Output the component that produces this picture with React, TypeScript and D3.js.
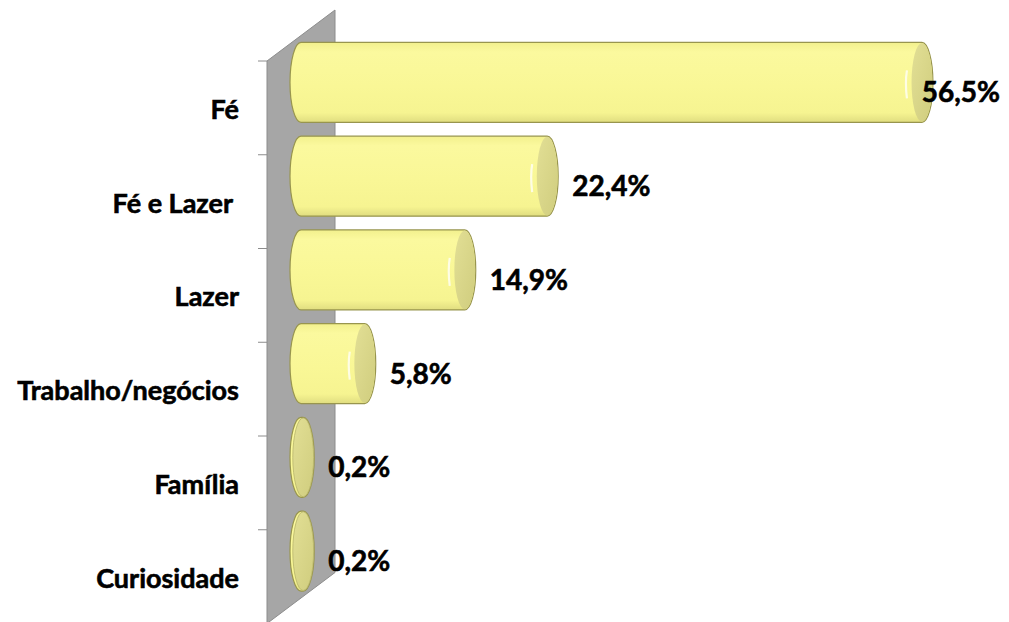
import React, { useEffect, useRef } from "react";
import * as d3 from "d3";

const categories = ["Fé", "Fé e Lazer ", "Lazer", "Trabalho/negócios", "Família", "Curiosidade"];
const values = [56.5, 22.4, 14.9, 5.8, 0.2, 0.2];
const valueLabels = ["56,5%", "22,4%", "14,9%", "5,8%", "0,2%", "0,2%"];

const W = 1009;
const H = 622;
const FONT = "Lato, 'Open Sans', sans-serif";

export default function App() {
  const ref = useRef<SVGSVGElement | null>(null);

  useEffect(() => {
    const svg = d3.select(ref.current);
    svg.selectAll("*").remove();

    // front plane geometry
    const left = 267;
    const top = 61;
    const bottom = 623.5;
    const depthX = 68;
    const depthY = -51;
    const shiftX = depthX / 2;
    const shiftY = depthY / 2;

    const x = d3.scaleLinear().domain([0, 60]).range([left, left + 60 * 10.99]);
    const y = d3.scaleBand<string>().domain(categories).range([top, bottom]).paddingInner(0).paddingOuter(0);
    const ry = 40;
    const rx = 11;

    const defs = svg.append("defs");
    const g1 = defs.append("linearGradient").attr("id", "body").attr("x1", 0).attr("y1", 0).attr("x2", 0).attr("y2", 1);
    g1.append("stop").attr("offset", "0%").attr("stop-color", "#f2f08d");
    g1.append("stop").attr("offset", "12%").attr("stop-color", "#fbf99e");
    g1.append("stop").attr("offset", "55%").attr("stop-color", "#f9f796");
    g1.append("stop").attr("offset", "88%").attr("stop-color", "#f6f491");
    g1.append("stop").attr("offset", "100%").attr("stop-color", "#e0dd80");

    const g2 = defs.append("linearGradient").attr("id", "cap").attr("x1", 0).attr("y1", 0).attr("x2", 1).attr("y2", 1);
    g2.append("stop").attr("offset", "0%").attr("stop-color", "#e2df95");
    g2.append("stop").attr("offset", "100%").attr("stop-color", "#d0cd7e");

    // back wall
    svg.append("path")
      .attr("d", `M${left},${top} L${left + depthX},${top + depthY} L${left + depthX},${bottom + depthY} L${left},${bottom} Z`)
      .attr("fill", "#a6a6a6")
      .attr("stroke", "#8c8c8c")
      .attr("stroke-width", 1);

    // ticks
    const tickYs = categories.map((c) => y(c)!);
    svg.append("g").selectAll("line").data(tickYs).join("line")
      .attr("x1", left - 9).attr("x2", left)
      .attr("y1", (d) => d).attr("y2", (d) => d)
      .attr("stroke", "#8c8c8c").attr("stroke-width", 1);

    // bars
    const bars = svg.append("g");
    categories.forEach((c, i) => {
      const cy = y(c)! + y.bandwidth() / 2 + shiftY;
      const x0 = x(0) + shiftX;
      const x1 = x(values[i]) + shiftX;
      const t = cy - ry;
      const b = cy + ry;
      const gb = bars.append("g");
      gb.append("path")
        .attr("d", `M${x0},${t} L${x1},${t} A${rx},${ry} 0 0 1 ${x1},${b} L${x0},${b} A${rx},${ry} 0 0 1 ${x0},${t} Z`)
        .attr("fill", "url(#body)")
        .attr("stroke", "#98954e")
        .attr("stroke-width", 1.2);
      gb.append("ellipse")
        .attr("cx", x1).attr("cy", cy).attr("rx", rx - 0.6).attr("ry", ry - 0.6)
        .attr("fill", "url(#cap)")
        .attr("stroke", values[i] < 1 ? "#b5b26a" : "none")
        .attr("stroke-width", 0.8);
      if (values[i] > 2) {
        gb.append("path")
          .attr("d", `M${x1 - rx - 4},${cy - 12} Q${x1 - rx - 6},${cy} ${x1 - rx - 4},${cy + 16}`)
          .attr("stroke", "#ffffff").attr("stroke-width", 2.2).attr("fill", "none").attr("opacity", 0.75);
      }
    });

    // category labels
    svg.append("g").selectAll("text").data(categories).join("text")
      .attr("x", 239)
      .attr("y", (d) => y(d)! + y.bandwidth() / 2 + 11)
      .attr("text-anchor", "end")
      .attr("font-family", FONT)
      .attr("font-weight", 700)
      .attr("font-size", 27)
      .attr("fill", "#000")
      .attr("stroke", "#000")
      .attr("stroke-width", 0.6)
      .style("white-space", "pre")
      .text((d) => d);

    // value labels
    const vl = svg.append("g");
    categories.forEach((c, i) => {
      const cy = y(c)! + y.bandwidth() / 2 + shiftY;
      const xe = x(values[i]) + shiftX + rx + 14;
      const tx = vl.append("text")
        .attr("y", cy + 20)
        .attr("font-family", FONT)
        .attr("font-weight", 700)
        .attr("font-size", 28)
        .attr("fill", "#000")
        .attr("stroke", "#000")
        .attr("stroke-width", 0.6)
        .text(valueLabels[i]);
      const tw = (tx.node() as SVGTextElement).getComputedTextLength();
      tx.attr("x", Math.min(xe, W - tw - 9));
    });
  }, []);

  return (
    <svg
      ref={ref}
      width={W}
      height={H}
      style={{ position: "absolute", left: 0, top: 0, background: "#fff", display: "block" }}
    />
  );
}
